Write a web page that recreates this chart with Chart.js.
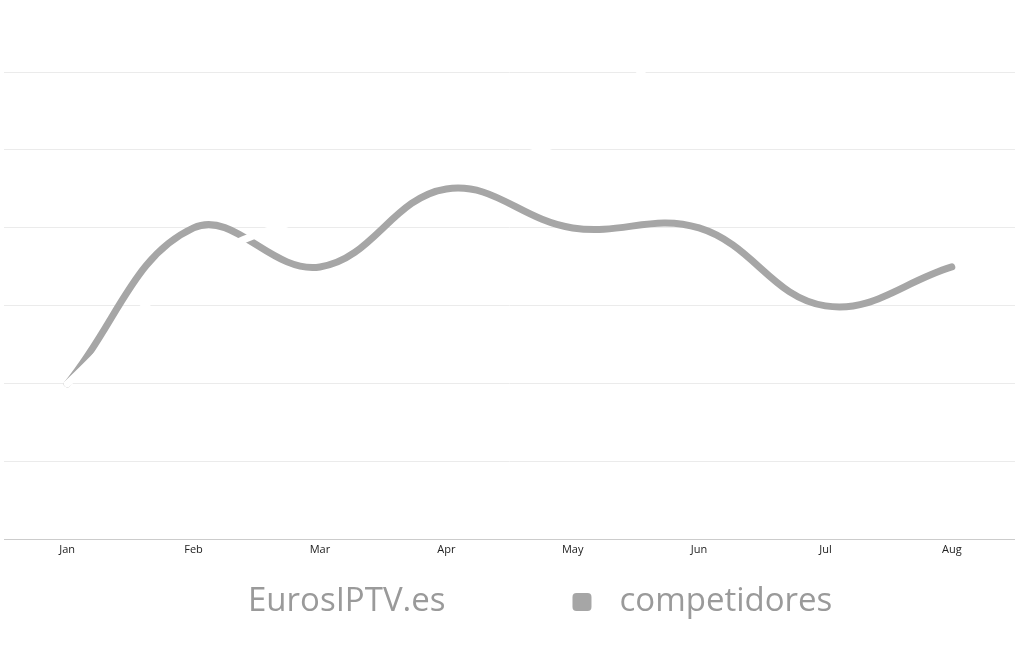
<!DOCTYPE html>
<html>
<head>
<meta charset="utf-8">
<script src="https://cdn.jsdelivr.net/npm/chart.js@4.4.1/dist/chart.umd.min.js"></script>
<style>
  html, body { margin: 0; padding: 0; background: #fff; }
  #wrap { width: 1015px; height: 648px; }
</style>
</head>
<body>
<div id="wrap"><canvas id="chart"></canvas></div>
<script>
// ---- DATA ----
const months = ['Jan', 'Feb', 'Mar', 'Apr', 'May', 'Jun', 'Jul', 'Aug'];
const eurosIptv = [2, 3.5, 4.2, 4.7, 5.2, 6.7, 7.5, 8];
const competidores = [2, 4, 3.5, 4.5, 4, 4, 3, 3.5];
const yTicks = [0, 1, 2, 3, 4, 5, 6];

const FONT = '"Open Sans", sans-serif';

// ---- LEGEND (drawn under the axis, ApexCharts-like spacing) ----
const bottomLegend = {
  id: 'bottomLegend',
  afterDraw(chart) {
    const ctx = chart.ctx;
    const baseline = 611;
    let x = 201;
    ctx.save();
    ctx.font = `33px ${FONT}`;
    ctx.textBaseline = 'alphabetic';
    chart.data.datasets.forEach(ds => {
      ctx.fillStyle = ds.borderColor;
      ctx.beginPath();
      ctx.roundRect(x, baseline - 18, 19, 18, 4);
      ctx.fill();
      x += 19 + 28;
      ctx.fillStyle = '#9a9a9a';
      ctx.fillText(ds.label, x, baseline);
      x += ctx.measureText(ds.label).width + 127;
    });
    ctx.restore();
  }
};

new Chart(document.getElementById('chart'), {
  type: 'line',
  data: {
    labels: months,
    datasets: [{
      label: 'EurosIPTV.es',
      data: eurosIptv,
      borderColor: '#ffffff',
      backgroundColor: '#ffffff',
      borderWidth: 7,
      borderCapStyle: 'round',
      tension: 0.4,
      pointRadius: 0,
      clip: false
    }, {
      label: 'competidores',
      data: competidores,
      borderColor: '#a6a6a6',
      backgroundColor: '#a6a6a6',
      borderWidth: 7,
      borderCapStyle: 'round',
      tension: 0.4,
      pointRadius: 0
    }]
  },
  plugins: [bottomLegend],
  options: {
    responsive: true,
    maintainAspectRatio: false,
    animation: false,
    layout: { padding: { top: 72, left: 4, right: 0, bottom: 89 } },
    plugins: {
      tooltip: { enabled: false },
      legend: { display: false }
    },
    scales: {
      x: {
        offset: true,
        grid: { display: false, drawTicks: false },
        border: { color: '#cccccc' },
        ticks: { color: '#222222', font: { family: FONT, size: 11 }, padding: 3 }
      },
      y: {
        min: 0,
        max: 6,
        afterBuildTicks: axis => { axis.ticks = yTicks.map(v => ({ value: v })); },
        grid: { color: '#ebebeb', drawTicks: false },
        border: { display: false },
        ticks: { display: false }
      }
    }
  }
});
</script>
</body>
</html>
